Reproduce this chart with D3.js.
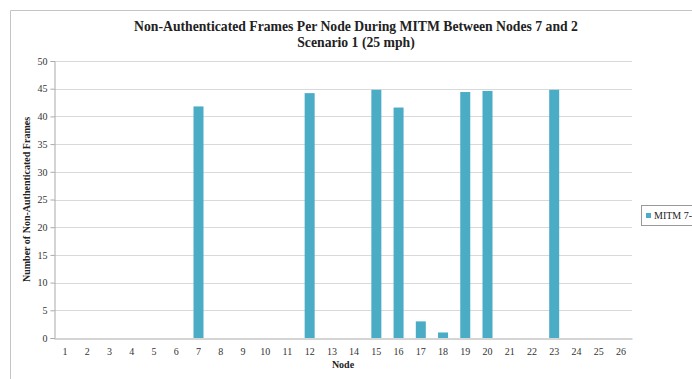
<!DOCTYPE html>
<html>
<head>
<meta charset="utf-8">
<script src="https://cdn.jsdelivr.net/npm/d3@7"></script>
<style>
  body { margin: 0; background: #fff; }
  text { font-family: "Liberation Serif", "Times New Roman", serif; }
  .tick text { fill: #333; font-size: 10px; }
  .grid line { stroke: #d9d9d9; }
</style>
</head>
<body>
<div id="viz"></div>
<script>
// data
nodes = d3.range(1, 27).map(String);
frames = [0, 0, 0, 0, 0, 0, 41.8, 0, 0, 0, 0, 44.2, 0, 0, 44.8, 41.6, 3, 1, 44.4, 44.6, 0, 0, 44.8, 0, 0, 0];
yTicks = [0, 5, 10, 15, 20, 25, 30, 35, 40, 45, 50];
legendLabel = 'MITM 7-'; // series name is cut off at the chart edge
barColor = '#4bacc6';

width = 692;
height = 379;
margin = {top: 61, right: 60, bottom: 41, left: 54};

svg = d3.select('#viz').append('svg')
	.attr('width', width)
	.attr('height', height);

// chart frame
svg.append('path')
	.attr('d', 'M10.5,' + height + 'V10.5H' + width)
	.attr('fill', 'none')
	.attr('stroke', '#c4c4c4');

x = d3.scaleBand()
	.domain(nodes)
	.range([margin.left, width - margin.right])
	.paddingInner(0.55)
	.paddingOuter(0.275);

y = d3.scaleLinear()
	.domain([0, 50])
	.range([height - margin.bottom, margin.top]);

// gridlines
svg.append('g')
	.attr('class', 'grid')
	.selectAll('line')
	.data(yTicks.slice(1))
	.enter()
	.append('line')
	.attr('x1', margin.left)
	.attr('x2', x.range()[1])
	.attr('y1', d => Math.round(y(d)) + 0.5)
	.attr('y2', d => Math.round(y(d)) + 0.5);

// bars
svg.append('g')
	.selectAll('rect')
	.data(frames)
	.enter()
	.append('rect')
	.attr('x', (d, i) => x(nodes[i]))
	.attr('width', x.bandwidth())
	.attr('y', d => y(d))
	.attr('height', d => y(0) - y(d))
	.attr('fill', barColor);

// y axis
yAxis = svg.append('g')
	.attr('transform', 'translate(' + (margin.left + 0.5) + ',0)')
	.call(d3.axisLeft(y).tickValues(yTicks).tickSize(4).tickPadding(3));
yAxis.selectAll('.tick line').attr('stroke', '#aaa');
yAxis.select('.domain').attr('stroke', '#aaa');

// x axis
xAxis = svg.append('g')
	.attr('transform', 'translate(0,' + (Math.round(y(0)) + 0.5) + ')')
	.call(d3.axisBottom(x).tickSize(0).tickPadding(9));
xAxis.select('.domain').attr('stroke', '#aaa');

// title
svg.append('text')
	.attr('x', 356)
	.attr('y', 31)
	.attr('text-anchor', 'middle')
	.attr('font-size', '13.7px')
	.attr('font-weight', 'bold')
	.attr('fill', '#222')
	.text('Non-Authenticated  Frames Per Node During MITM Between Nodes 7 and 2');

svg.append('text')
	.attr('x', 356)
	.attr('y', 47)
	.attr('text-anchor', 'middle')
	.attr('font-size', '13.7px')
	.attr('font-weight', 'bold')
	.attr('fill', '#222')
	.text('Scenario 1 (25 mph)');

// axis titles
svg.append('text')
	.attr('transform', 'translate(30,' + ((y(0) + y(50)) / 2) + ') rotate(-90)')
	.attr('text-anchor', 'middle')
	.attr('font-size', '10px')
	.attr('font-weight', 'bold')
	.attr('fill', '#222')
	.text('Number of Non-Authenticated Frames');

svg.append('text')
	.attr('x', (x.range()[0] + x.range()[1]) / 2)
	.attr('y', 368)
	.attr('text-anchor', 'middle')
	.attr('font-size', '10px')
	.attr('font-weight', 'bold')
	.attr('fill', '#222')
	.text('Node');

// legend
legend = svg.append('g')
	.attr('transform', 'translate(641,205)');
legend.append('rect')
	.attr('x', 0.5)
	.attr('y', 0.5)
	.attr('width', 70)
	.attr('height', 20)
	.attr('fill', '#fff')
	.attr('stroke', '#999');
legend.append('rect')
	.attr('x', 5)
	.attr('y', 8)
	.attr('width', 5)
	.attr('height', 5)
	.attr('fill', barColor);
legend.append('text')
	.attr('x', 13)
	.attr('y', 14)
	.attr('font-size', '10px')
	.attr('fill', '#222')
	.text(legendLabel);
</script>
</body>
</html>
